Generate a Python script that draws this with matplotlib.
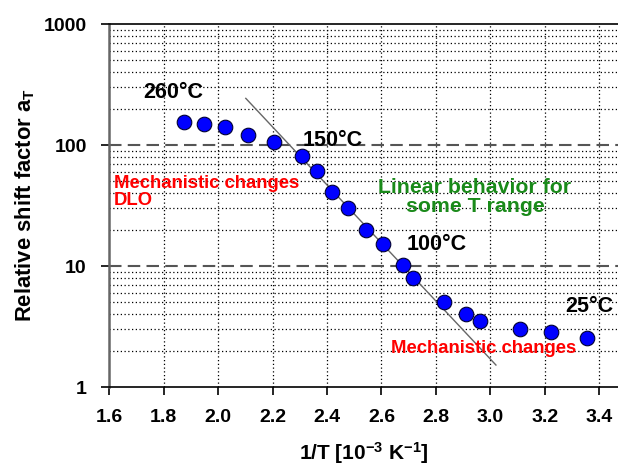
import matplotlib
matplotlib.use("Agg")
import matplotlib.pyplot as plt
from matplotlib.ticker import FixedLocator, FuncFormatter, NullFormatter

plt.rcParams['font.family'] = ['Liberation Sans', 'DejaVu Sans']
plt.rcParams['font.weight'] = 'bold'
plt.rcParams['mathtext.fontset'] = 'custom'
plt.rcParams['mathtext.rm'] = 'Liberation Sans:bold'
plt.rcParams['mathtext.bf'] = 'Liberation Sans:bold'
plt.rcParams['mathtext.default'] = 'bf'

# Shift factor versus inverse temperature
inv_T = [1.876, 1.948, 2.027, 2.111, 2.205, 2.307, 2.362, 2.417, 2.478,
         2.543, 2.607, 2.680, 2.714, 2.829, 2.909, 2.961, 3.108, 3.221, 3.354]
shift = [154, 150, 141, 121, 105, 81, 61, 41, 30,
         20, 15.2, 10.2, 8.0, 5.07, 4.03, 3.53, 3.03, 2.85, 2.53]

# Arrhenius fit line end points
fit_x = [2.102, 3.020]
fit_y = [243, 1.52]

x_ticks = [1.6, 1.8, 2.0, 2.2, 2.4, 2.6, 2.8, 3.0, 3.2, 3.4]
y_ticks = [1, 10, 100, 1000]

fig = plt.figure(figsize=(6.18, 4.71), dpi=100)
ax = fig.add_axes([0.1764, 0.1783, 0.8236, 0.7707])

ax.set_yscale('log')
ax.set_xlim(1.6, 3.468)
ax.set_ylim(1, 1000)

# grid
for xv in x_ticks[1:]:
    ax.axvline(xv, color='black', lw=0.9, ls=(0, (1, 2)), zorder=0)
for dec in [1, 10, 100]:
    for m in range(2, 10):
        ax.axhline(dec * m, color='black', lw=0.9, ls=(0, (1, 2)), zorder=0)
for yv in [10, 100]:
    ax.axhline(yv, color='#555555', lw=1.5, ls=(0, (6, 3)), zorder=1)

ax.plot(fit_x, fit_y, color='#666666', lw=1.0, zorder=2)
ax.plot(inv_T, shift, 'o', ms=10.5, mfc='#0000ff', mec='#000033', mew=0.8, zorder=3)

ax.xaxis.set_major_locator(FixedLocator(x_ticks))
ax.xaxis.set_major_formatter(FuncFormatter(lambda v, p: f"{v:.1f}"))
ax.yaxis.set_major_locator(FixedLocator(y_ticks))
ax.yaxis.set_major_formatter(FuncFormatter(lambda v, p: f"{v:g}"))
ax.yaxis.set_minor_locator(FixedLocator([]))
ax.yaxis.set_minor_formatter(NullFormatter())
ax.tick_params(axis='both', which='major', labelsize=14, length=6, width=1.2,
               direction='out')
ax.tick_params(axis='x', pad=10)
ax.tick_params(axis='y', pad=10)

ax.spines['right'].set_visible(False)
ax.spines['left'].set_color('#666666')
ax.spines['left'].set_linewidth(1.8)
ax.spines['bottom'].set_color('black')
ax.spines['bottom'].set_linewidth(1.2)
ax.spines['top'].set_color('black')
ax.spines['top'].set_linewidth(1.2)

ax.set_xlabel(r"1/T [10$^{-3}$ K$^{-1}$]", fontsize=15, fontweight='bold', labelpad=10)
ax.set_ylabel(r"Relative shift factor a$_{T}$", fontsize=15.8, fontweight='bold', labelpad=5)

ax.text(1.725, 270, "260°C", fontsize=15.5, fontweight='bold', ha='left', va='center')
ax.text(2.312, 108, "150°C", fontsize=15.5, fontweight='bold', ha='left', va='center')
ax.text(2.694, 15.2, "100°C", fontsize=15.5, fontweight='bold', ha='left', va='center')
ax.text(3.273, 4.67, "25°C", fontsize=15.5, fontweight='bold', ha='left', va='center')

ax.text(1.618, 41, "Mechanistic changes\nDLO", color='red', fontsize=13.3, fontweight='bold',
        ha='left', va='center', linespacing=1.0)
ax.text(2.943, 37.2, "Linear behavior for\nsome T range", color='#1a8a1a', fontsize=15.3,
        fontweight='bold', ha='center', va='center', linespacing=1.05)
ax.text(2.976, 2.1, "Mechanistic changes", color='red', fontsize=13.3, fontweight='bold',
        ha='center', va='center')

fig.savefig("out.png", dpi=100)
